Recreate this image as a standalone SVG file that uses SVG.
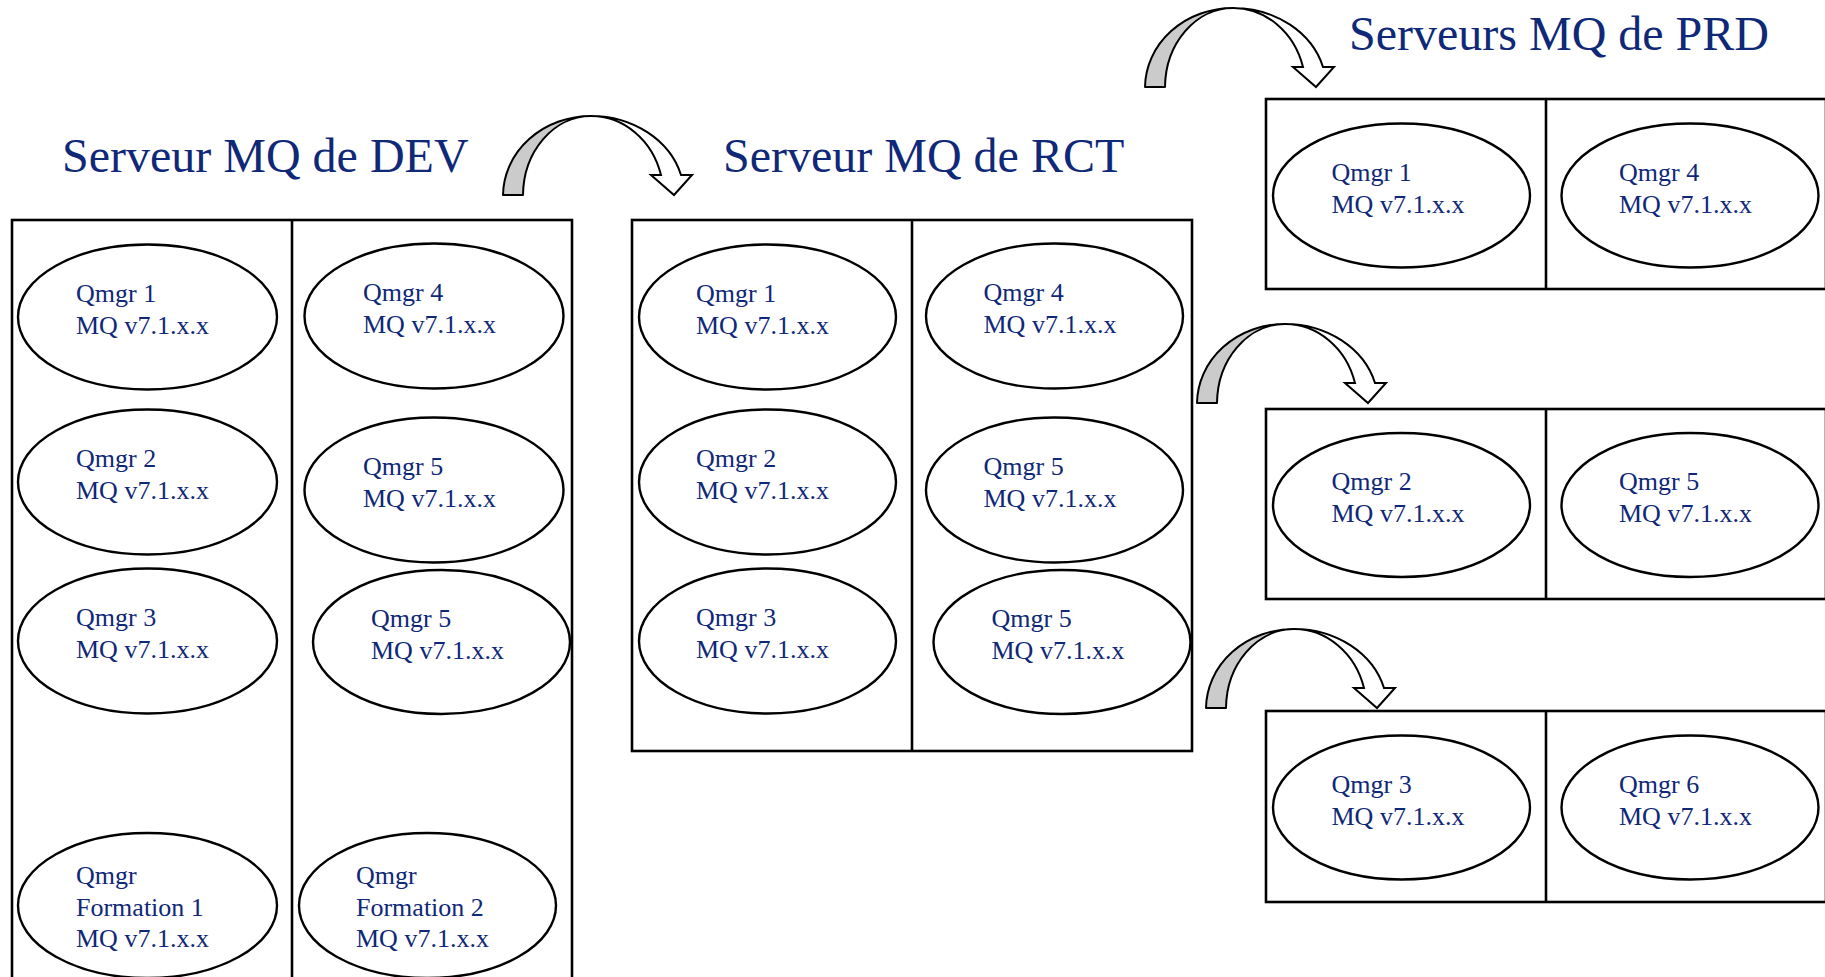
<svg xmlns="http://www.w3.org/2000/svg" width="1825" height="977" viewBox="0 0 1825 977">
<style>
.box{fill:none;stroke:#000;stroke-width:2.6}
.div{stroke:#000;stroke-width:2.6}
.qm{fill:#fff;stroke:#000;stroke-width:2.4}
.lbl{font-family:"Liberation Serif","Times New Roman",serif;font-size:26px;fill:#0f2878}
.title{font-family:"Liberation Serif","Times New Roman",serif;font-size:48px;fill:#0f2878}
.shade{fill:#cbcbcb;stroke:#000;stroke-width:2;stroke-linejoin:round}
.band{fill:#fff;stroke:#000;stroke-width:2;stroke-linejoin:miter}
</style>
<defs>
<g id="curved-arrow">
<path class="shade" d="M0,0 A88,80 0 0 1 88,-79 A68,80 0 0 0 20,0 Z"/>
<path class="band" d="M88,-79 A93.3,80 0 0 1 178,-20 L189,-20 L171,0 L148,-20 L158,-20 A72.5,80 0 0 0 88,-79 Z"/>
</g>
</defs>
<rect width="1825" height="977" fill="#fff"/>

<g id="title-dev"><text class="title" x="62" y="172">Serveur MQ de DEV</text></g>
<g id="title-rct"><text class="title" x="723" y="172">Serveur MQ de RCT</text></g>
<g id="title-prd"><text class="title" x="1349" y="50">Serveurs MQ de PRD</text></g>

<g id="server-dev">
<rect class="box" x="12" y="220" width="560" height="800"/>
<line class="div" x1="292" y1="220" x2="292" y2="1020"/>
</g>
<g id="server-rct">
<rect class="box" x="632" y="220" width="560" height="531"/>
<line class="div" x1="912" y1="220" x2="912" y2="751"/>
</g>
<g id="server-prd-1">
<rect class="box" x="1266" y="99" width="560" height="190"/>
<line class="div" x1="1546" y1="99" x2="1546" y2="289"/>
</g>
<g id="server-prd-2">
<rect class="box" x="1266" y="409" width="560" height="190"/>
<line class="div" x1="1546" y1="409" x2="1546" y2="599"/>
</g>
<g id="server-prd-3">
<rect class="box" x="1266" y="711" width="560" height="191"/>
<line class="div" x1="1546" y1="711" x2="1546" y2="902"/>
</g>

<g id="dev-qmgr1"><ellipse class="qm" cx="147.5" cy="317" rx="129.5" ry="72.5"/><text class="lbl" x="76" y="302">Qmgr 1</text><text class="lbl" x="76" y="334">MQ v7.1.x.x</text></g>
<g id="dev-qmgr2"><ellipse class="qm" cx="147.5" cy="482" rx="129.5" ry="72.5"/><text class="lbl" x="76" y="467">Qmgr 2</text><text class="lbl" x="76" y="499">MQ v7.1.x.x</text></g>
<g id="dev-qmgr3"><ellipse class="qm" cx="147.5" cy="641" rx="129.5" ry="72.5"/><text class="lbl" x="76" y="626">Qmgr 3</text><text class="lbl" x="76" y="658">MQ v7.1.x.x</text></g>
<g id="dev-formation1"><ellipse class="qm" cx="147.5" cy="905.5" rx="129.5" ry="72.5"/><text class="lbl" x="76" y="884">Qmgr</text><text class="lbl" x="76" y="915.5">Formation 1</text><text class="lbl" x="76" y="947">MQ v7.1.x.x</text></g>
<g id="dev-qmgr4"><ellipse class="qm" cx="434" cy="316" rx="129.5" ry="72.5"/><text class="lbl" x="363" y="301">Qmgr 4</text><text class="lbl" x="363" y="333">MQ v7.1.x.x</text></g>
<g id="dev-qmgr5"><ellipse class="qm" cx="434" cy="490" rx="129.5" ry="72.5"/><text class="lbl" x="363" y="475">Qmgr 5</text><text class="lbl" x="363" y="507">MQ v7.1.x.x</text></g>
<g id="dev-qmgr5b"><ellipse class="qm" cx="441.5" cy="642" rx="128.5" ry="72"/><text class="lbl" x="371" y="627">Qmgr 5</text><text class="lbl" x="371" y="659">MQ v7.1.x.x</text></g>
<g id="dev-formation2"><ellipse class="qm" cx="427.5" cy="905.5" rx="128.5" ry="72.5"/><text class="lbl" x="356" y="884">Qmgr</text><text class="lbl" x="356" y="915.5">Formation 2</text><text class="lbl" x="356" y="947">MQ v7.1.x.x</text></g>

<g id="rct-qmgr1"><ellipse class="qm" cx="767.5" cy="317" rx="128.5" ry="72.5"/><text class="lbl" x="696" y="302">Qmgr 1</text><text class="lbl" x="696" y="334">MQ v7.1.x.x</text></g>
<g id="rct-qmgr2"><ellipse class="qm" cx="767.5" cy="482" rx="128.5" ry="72.5"/><text class="lbl" x="696" y="467">Qmgr 2</text><text class="lbl" x="696" y="499">MQ v7.1.x.x</text></g>
<g id="rct-qmgr3"><ellipse class="qm" cx="767.5" cy="641" rx="128.5" ry="72.5"/><text class="lbl" x="696" y="626">Qmgr 3</text><text class="lbl" x="696" y="658">MQ v7.1.x.x</text></g>
<g id="rct-qmgr4"><ellipse class="qm" cx="1054.5" cy="316" rx="128.5" ry="72.5"/><text class="lbl" x="983.5" y="301">Qmgr 4</text><text class="lbl" x="983.5" y="333">MQ v7.1.x.x</text></g>
<g id="rct-qmgr5"><ellipse class="qm" cx="1054.5" cy="490" rx="128.5" ry="72.5"/><text class="lbl" x="983.5" y="475">Qmgr 5</text><text class="lbl" x="983.5" y="507">MQ v7.1.x.x</text></g>
<g id="rct-qmgr5b"><ellipse class="qm" cx="1062" cy="642" rx="128.5" ry="72"/><text class="lbl" x="991.5" y="627">Qmgr 5</text><text class="lbl" x="991.5" y="659">MQ v7.1.x.x</text></g>

<g id="prd-qmgr1"><ellipse class="qm" cx="1401.5" cy="195.5" rx="128.5" ry="72"/><text class="lbl" x="1331.5" y="180.5">Qmgr 1</text><text class="lbl" x="1331.5" y="212.5">MQ v7.1.x.x</text></g>
<g id="prd-qmgr4"><ellipse class="qm" cx="1690" cy="195.5" rx="128.5" ry="72"/><text class="lbl" x="1619" y="180.5">Qmgr 4</text><text class="lbl" x="1619" y="212.5">MQ v7.1.x.x</text></g>
<g id="prd-qmgr2"><ellipse class="qm" cx="1401.5" cy="505" rx="128.5" ry="72"/><text class="lbl" x="1331.5" y="490">Qmgr 2</text><text class="lbl" x="1331.5" y="522">MQ v7.1.x.x</text></g>
<g id="prd-qmgr5"><ellipse class="qm" cx="1690" cy="505" rx="128.5" ry="72"/><text class="lbl" x="1619" y="490">Qmgr 5</text><text class="lbl" x="1619" y="522">MQ v7.1.x.x</text></g>
<g id="prd-qmgr3"><ellipse class="qm" cx="1401.5" cy="807.5" rx="128.5" ry="72"/><text class="lbl" x="1331.5" y="792.5">Qmgr 3</text><text class="lbl" x="1331.5" y="824.5">MQ v7.1.x.x</text></g>
<g id="prd-qmgr6"><ellipse class="qm" cx="1690" cy="807.5" rx="128.5" ry="72"/><text class="lbl" x="1619" y="792.5">Qmgr 6</text><text class="lbl" x="1619" y="824.5">MQ v7.1.x.x</text></g>

<g id="connectors">
<use href="#curved-arrow" transform="translate(503,195)"/>
<use href="#curved-arrow" transform="translate(1145,87)"/>
<use href="#curved-arrow" transform="translate(1197,403)"/>
<use href="#curved-arrow" transform="translate(1206,708)"/>
</g>
</svg>
